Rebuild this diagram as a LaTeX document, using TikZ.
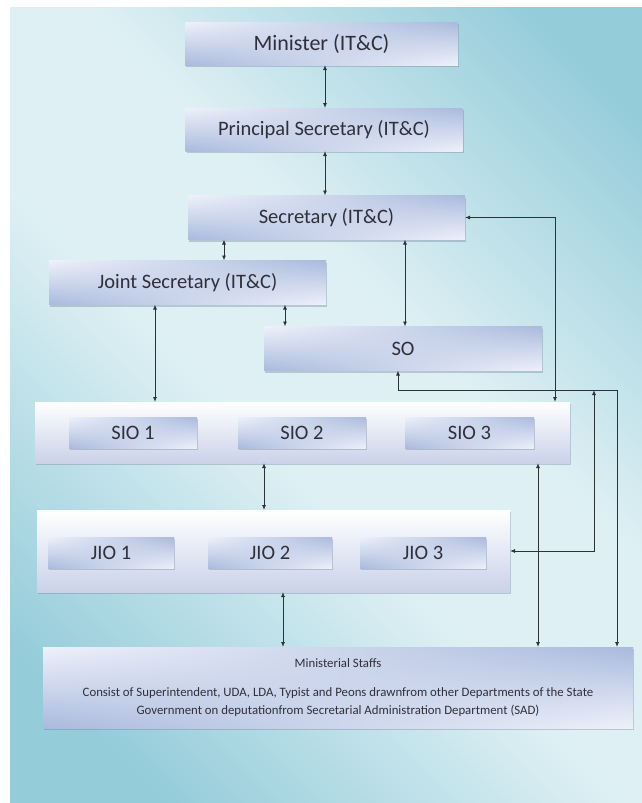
\documentclass[tikz,border=0pt]{standalone}
\usepackage{fontspec}
\setmainfont{Carlito}
\usetikzlibrary{positioning,arrows.meta,shadows,shadings}

\definecolor{bgdark}{RGB}{148,204,218}
\definecolor{bglight}{RGB}{222,240,244}
\definecolor{boxpale}{RGB}{238,241,250}
\definecolor{boxblue}{RGB}{170,186,221}
\definecolor{boxedge}{RGB}{110,120,150}
\definecolor{contbot}{RGB}{202,210,234}
\definecolor{txt}{RGB}{48,48,58}
\definecolor{wire}{RGB}{45,50,55}

\pgfdeclarehorizontalshading{bgshade}{100bp}{color(0bp)=(bgdark); color(22bp)=(bgdark); color(45bp)=(bglight); color(58bp)=(bglight); color(80bp)=(bgdark); color(100bp)=(bgdark)}

\begin{document}
\begin{tikzpicture}[
        x=1pt, y=-1pt,
        box/.style={shade, upper left=boxpale, upper right=boxblue, lower left=boxblue, lower right=boxpale,
            inner sep=0pt, outer sep=0pt, minimum width=277pt, minimum height=44pt, text=txt,
            font=\fontsize{20.5}{24}\selectfont,
            drop shadow={opacity=0.35, color=boxedge, shadow xshift=1pt, shadow yshift=-2pt}},
        small/.style={box, minimum width=127pt, minimum height=31pt},
        group/.style={shade, top color=white, bottom color=contbot, inner sep=0pt, outer sep=0pt,
            drop shadow={opacity=0.35, color=boxedge, shadow xshift=1pt, shadow yshift=-2pt}},
        line/.style={{Latex[length=5pt,width=4pt]}-{Latex[length=5pt,width=4pt]}, draw=wire, line width=0.9pt}
    ]
        \useasboundingbox (0,0) rectangle (642,803);
        \fill[white] (0,0) rectangle (642,803);
        \shade[shading=bgshade, shading angle=45] (10,7) rectangle (642,803);

        % top of the chain
        \node[box, minimum width=273pt, minimum height=43pt, font=\fontsize{22}{26}\selectfont] (min) at (321.5,43.5) {Minister (IT\&C)};
        \node[box, minimum height=43pt] (psec) at (324,129.5) {Principal Secretary (IT\&C)};
        \node[box] (sec) at (326.5,217.5) {Secretary (IT\&C)};
        \node[box] (jsec) at (187.5,282.5) {Joint Secretary (IT\&C)};
        \node[box, minimum width=278pt] (so) at (403,348.5) {SO};

        % SIO and JIO rows
        \node[group, minimum width=535pt, minimum height=61pt] (siobox) at (302.5,432.5) {};
        \node[small, minimum width=128pt] (sio1) at (133,432.5) {SIO 1};
        \node[small, minimum width=128pt] (sio2) at (302,432.5) {SIO 2};
        \node[small, minimum width=129pt] (sio3) at (469.5,432.5) {SIO 3};

        \node[group, minimum width=473pt, minimum height=82pt] (jiobox) at (273.5,551) {};
        \node[small, minimum width=126pt] (jio1) at (111,552.5) {JIO 1};
        \node[small, minimum width=124pt] (jio2) at (270,552.5) {JIO 2};
        \node[small, minimum width=126pt] (jio3) at (423,552.5) {JIO 3};

        \node[box, minimum width=590pt, minimum height=81pt, align=center,
            font=\fontsize{12.8}{18}\selectfont] (staff) at (338,687.5)
            {Ministerial Staffs\\[11pt]
             Consist of Superintendent, UDA, LDA, Typist and Peons drawnfrom other Departments of the State\\
             Government on deputationfrom Secretarial Administration Department (SAD)};

        \coordinate (soloop) at (617,390);
        \coordinate (jiotap) at (594,390);

        \draw[line] (min.south -| 325,0) -- (psec.north -| 325,0);
        \draw[line] (psec.south -| 325,0) -- (sec.north -| 325,0);
        \draw[line] (sec.south -| 224,0) -- (jsec.north -| 224,0);
        \draw[line] (jsec.south -| 285,0) -- (so.north -| 285,0);
        \draw[line] (sec.south -| 405,0) -- (so.north -| 405,0);
        \draw[line] (jsec.south -| 155,0) -- (siobox.north -| 155,0);
        \draw[line] (sec.east) -| (siobox.north -| 555,0);
        \draw[line] (so.south -| 398,0) |- (soloop) -- (staff.north -| soloop);
        \draw[line] (jiobox.east) -| (jiotap);
        \draw[line] (siobox.south -| 538,0) -- (staff.north -| 538,0);
        \draw[line] (siobox.south -| 264,0) -- (jiobox.north -| 264,0);
        \draw[line] (jiobox.south -| 283,0) -- (staff.north -| 283,0);
    \end{tikzpicture}
\end{document}
